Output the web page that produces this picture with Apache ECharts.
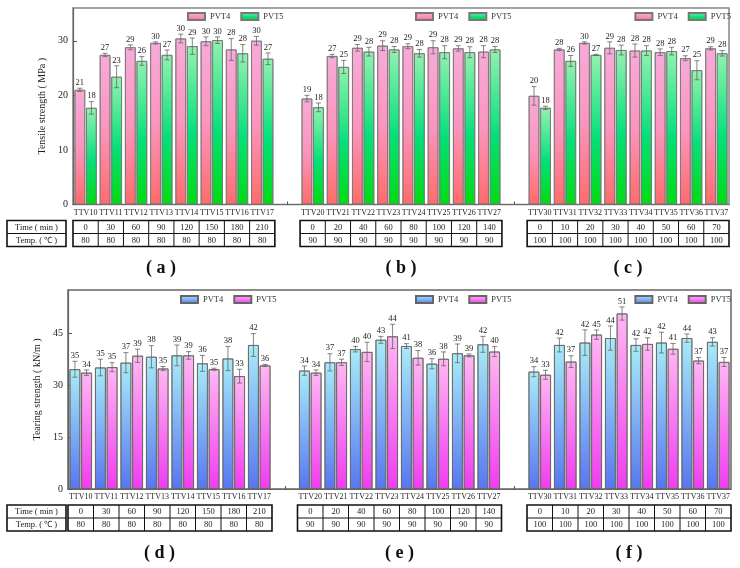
<!DOCTYPE html>
<html><head><meta charset="utf-8">
<script src="https://cdn.jsdelivr.net/npm/echarts@6/dist/echarts.min.js"></script>
<style>html,body{margin:0;padding:0;background:#fff}#c{width:740px;height:568px}</style>
</head><body><div id="c"></div>
<script>
// ---------- data ----------
const groupA = ['TTV10','TTV11','TTV12','TTV13','TTV14','TTV15','TTV16','TTV17'];
const groupB = ['TTV20','TTV21','TTV22','TTV23','TTV24','TTV25','TTV26','TTV27'];
const groupC = ['TTV30','TTV31','TTV32','TTV33','TTV34','TTV35','TTV36','TTV37'];
const timeA = [0,30,60,90,120,150,180,210];
const tempA = [80,80,80,80,80,80,80,80];
const timeB = [0,20,40,60,80,100,120,140];
const tempB = [90,90,90,90,90,90,90,90];
const timeC = [0,10,20,30,40,50,60,70];
const tempC = [100,100,100,100,100,100,100,100];
const panelTop = ['( a )','( b )','( c )'];
const panelBottom = ['( d )','( e )','( f )'];

const tensilePVT4    = [21.0,27.4,28.8,29.6,30.4,29.9,28.4,30.0, 19.4,27.2,28.7,29.1,29.0,28.8,28.6,28.0, 19.9,28.4,29.6,28.7,28.2,27.9,26.8,28.6];
const tensilePVT4Err = [0.3,0.3,0.45,0.2,0.8,0.8,2.0,0.8, 0.6,0.3,0.6,0.9,0.45,1.2,0.5,1.1, 1.7,0.2,0.2,1.1,1.2,0.6,0.45,0.3];
const tensilePVT5    = [17.7,23.4,26.3,27.4,29.0,30.1,27.7,26.7, 17.8,25.2,28.0,28.4,27.7,27.9,27.9,28.4, 17.7,26.3,27.4,28.3,28.2,28.1,24.6,27.7];
const tensilePVT5Err = [1.15,2.0,0.8,0.9,1.5,0.6,1.6,1.07, 0.8,1.2,0.8,0.55,0.7,1.2,1.0,0.55, 0.3,1.0,0.1,0.9,0.9,0.7,1.75,0.5];
const tearPVT4    = [34.6,35.1,36.5,38.2,38.6,36.3,37.7,41.6, 34.2,36.6,40.4,43.1,41.3,36.2,39.2,41.8, 33.9,41.6,42.3,43.6,41.6,42.3,43.6,42.5];
const tearPVT4Err = [2.3,2.4,2.9,3.2,3.0,2.3,3.5,3.3, 1.35,2.5,0.8,1.0,0.7,1.45,2.7,2.3, 1.45,2.0,3.7,3.5,1.8,3.0,1.2,1.2];
const tearPVT5    = [33.6,35.2,38.5,34.8,38.6,34.6,32.6,35.7, 33.6,36.6,39.6,44.1,37.9,37.6,38.6,39.7, 33.0,36.8,44.6,50.7,41.9,40.5,37.1,36.7];
const tearPVT5Err = [0.8,1.3,1.9,0.6,1.1,0.3,2.0,0.3, 0.8,0.9,2.8,3.5,2.1,2.0,0.4,1.45, 1.3,1.7,1.35,1.9,1.8,1.55,0.9,1.3];

// ---------- helpers ----------
const SERIF = 'Liberation Serif';
const cats = [...groupA, '', ...groupB, ' ', ...groupC];
const GAPS = [8, 17];
function expand(arr) { return [...arr.slice(0,8), '-', ...arr.slice(8,16), '-', ...arr.slice(16)]; }
function errData(vals, errs) {
  const v = expand(vals), e = expand(errs), out = [];
  v.forEach((val, i) => { if (val !== '-') out.push([i, val, e[i]]); });
  return out;
}
function grad(stops) {
  return { type:'linear', x:0, y:0, x2:0, y2:1, colorStops: stops.map(s => ({offset:s[0], color:s[1]})) };
}
const CAT_GAP = 0.12, BAR_GAP = 0.08;
function errRender(side) {
  return function (params, api) {
    const ci = api.value(0), v = api.value(1), e = api.value(2);
    const band = api.size([1, 0])[0];
    const bw = band * (1 - CAT_GAP) / (2 + BAR_GAP);
    const x = api.coord([ci, v])[0] + side * (bw + bw * BAR_GAP) / 2;
    const yT = api.coord([ci, v + e])[1], yB = api.coord([ci, v - e])[1];
    const cap = 2.5, st = { stroke:'#666', lineWidth:0.8 };
    return { type:'group', children:[
      { type:'line', shape:{x1:x, y1:yT, x2:x, y2:yB}, style:st },
      { type:'line', shape:{x1:x-cap, y1:yT, x2:x+cap, y2:yT}, style:st },
      { type:'line', shape:{x1:x-cap, y1:yB, x2:x+cap, y2:yB}, style:st },
      { type:'text', x:x, y:yT - 1, style:{ text:String(Math.round(v)), fontSize:8.5, fontFamily:SERIF, fill:'#222', align:'center', verticalAlign:'bottom' } }
    ]};
  };
}
function xAxisDef(gi) {
  return {
    type:'category', gridIndex:gi, data:cats, boundaryGap:true,
    axisLine:{ lineStyle:{ color:'#666', width:1.2 } },
    axisTick:{ show:true, inside:true, length:3, alignWithLabel:true, interval:(i) => GAPS.includes(i), lineStyle:{ color:'#555' } },
    axisLabel:{ interval:0, fontFamily:SERIF, fontSize:8, color:'#222', margin:4 }
  };
}
function yAxisDef(gi, max, interval, name, gap) {
  return {
    type:'value', gridIndex:gi, min:0, max:max, interval:interval,
    name:name, nameLocation:'middle', nameGap:gap, nameRotate:90,
    nameTextStyle:{ fontFamily:SERIF, fontSize:10, color:'#222' },
    axisLine:{ show:true, lineStyle:{ color:'#666', width:1.2 } },
    axisTick:{ show:true, inside:true, length:4, lineStyle:{ color:'#555' } },
    axisLabel:{ fontFamily:SERIF, fontSize:10, color:'#222', margin:5, showMaxLabel:false },
    splitLine:{ show:false }
  };
}
function legendDef(pos, top, names) {
  return Object.assign({
    data:names, top:top, padding:0, itemWidth:17, itemHeight:7, itemGap:10, itemTextGap:4,
    orient:'horizontal', icon:'rect', formatter:(n) => n.trim(),
    textStyle:{ fontFamily:SERIF, fontSize:8.5, color:'#333' }
  }, pos);
}

const cTopA = grad([[0,'#f8abd9'],[0.5,'#fb95bd'],[1,'#ff6b6b']]);
const cTopB = grad([[0,'#93f2b0'],[0.55,'#05e07a'],[1,'#00dc10']]);
const cBotA = grad([[0,'#a8ecf8'],[1,'#5876f0']]);
const cBotB = grad([[0,'#ffb8f2'],[1,'#f03cf0']]);
const barBase = { type:'bar', barCategoryGap:(CAT_GAP*100)+'%', barGap:(BAR_GAP*100)+'%' };

const chart = echarts.init(document.getElementById('c'), null, { renderer:'canvas' });
chart.setOption({
  animation:false,
  backgroundColor:'#fff',
  grid:[
    { left:73, top:8, width:656, height:196.5, show:true, borderColor:'#888', borderWidth:1.5 },
    { left:68, top:290, width:663, height:199, show:true, borderColor:'#666', borderWidth:1.5 }
  ],
  xAxis:[ xAxisDef(0), xAxisDef(1) ],
  yAxis:[
    yAxisDef(0, 36, 10, 'Tensile strength ( MPa )', 19),
    yAxisDef(1, 57.5, 15, 'Tearing strength ( kN/m )', 18)
  ],
  legend:[
    legendDef({left:187}, 12, ['PVT4','PVT5']),
    legendDef({left:415}, 12, ['PVT4','PVT5']),
    legendDef({right:9}, 12, ['PVT4','PVT5']),
    legendDef({left:180}, 295, ['PVT4 ','PVT5 ']),
    legendDef({left:415}, 295, ['PVT4 ','PVT5 ']),
    legendDef({right:9}, 295, ['PVT4 ','PVT5 '])
  ],
  series:[
    Object.assign({}, barBase, { name:'PVT4', xAxisIndex:0, yAxisIndex:0, data:expand(tensilePVT4), itemStyle:{ color:cTopA, borderColor:'#777', borderWidth:0.8 } }),
    Object.assign({}, barBase, { name:'PVT5', xAxisIndex:0, yAxisIndex:0, data:expand(tensilePVT5), itemStyle:{ color:cTopB, borderColor:'#777', borderWidth:0.8 } }),
    Object.assign({}, barBase, { name:'PVT4 ', xAxisIndex:1, yAxisIndex:1, data:expand(tearPVT4), itemStyle:{ color:cBotA, borderColor:'#666', borderWidth:0.8 } }),
    Object.assign({}, barBase, { name:'PVT5 ', xAxisIndex:1, yAxisIndex:1, data:expand(tearPVT5), itemStyle:{ color:cBotB, borderColor:'#666', borderWidth:0.8 } }),
    { type:'custom', name:'PVT4', xAxisIndex:0, yAxisIndex:0, renderItem:errRender(-1), data:errData(tensilePVT4, tensilePVT4Err), encode:{x:0, y:1}, z:5 },
    { type:'custom', name:'PVT5', xAxisIndex:0, yAxisIndex:0, renderItem:errRender(1), data:errData(tensilePVT5, tensilePVT5Err), encode:{x:0, y:1}, z:5 },
    { type:'custom', name:'PVT4 ', xAxisIndex:1, yAxisIndex:1, renderItem:errRender(-1), data:errData(tearPVT4, tearPVT4Err), encode:{x:0, y:1}, z:5 },
    { type:'custom', name:'PVT5 ', xAxisIndex:1, yAxisIndex:1, renderItem:errRender(1), data:errData(tearPVT5, tearPVT5Err), encode:{x:0, y:1}, z:5 }
  ]
});

// ---------- tables & panel titles (positioned from the axes) ----------
function cellText(x, y, w, h, txt, size) {
  return { type:'text', x:x + w/2, y:y + h/2 + 0.5, style:{ text:String(txt), fontFamily:SERIF, fontSize:size || 8.5, fill:'#222', align:'center', verticalAlign:'middle' }, z:10 };
}
function tables(ax, groups, titles, titleY) {
  const els = [];
  const p0 = chart.convertToPixel({ xAxisIndex:ax }, 0);
  const p1 = chart.convertToPixel({ xAxisIndex:ax }, 1);
  const slot = p1 - p0;
  const y0 = chart.convertToPixel({ yAxisIndex:ax }, 0);
  const top = y0 + 16, rh = 13;
  groups.forEach((g, gi) => {
    const left = chart.convertToPixel({ xAxisIndex:ax }, g.start) - slot/2;
    const W = slot * g.time.length;
    for (let k = 1; k < g.time.length; k++) {
      els.push({ type:'line', shape:{ x1:left + k*slot, y1:top, x2:left + k*slot, y2:top + 2*rh }, style:{ stroke:'#111', lineWidth:1 }, z:10 });
    }
    els.push({ type:'line', shape:{ x1:left, y1:top + rh, x2:left + W, y2:top + rh }, style:{ stroke:'#111', lineWidth:1 }, z:10 });
    els.push({ type:'rect', shape:{ x:left, y:top, width:W, height:2*rh }, style:{ fill:'none', stroke:'#111', lineWidth:1.6 }, z:10 });
    g.time.forEach((t, k) => {
      els.push(cellText(left + k*slot, top, slot, rh, t));
      els.push(cellText(left + k*slot, top + rh, slot, rh, g.temp[k]));
    });
    let cx = left + W/2;
    if (gi === 0) cx = (7 + left + W) / 2 + 20;
    els.push({ type:'text', x:cx, y:titleY, style:{ text:titles[gi], fontFamily:SERIF, fontSize:18, fontWeight:'bold', fill:'#111', align:'center', verticalAlign:'middle' }, z:10 });
  });
  // row header box
  const hx = 7, hw = 59;
  els.push({ type:'rect', shape:{ x:hx, y:top, width:hw, height:2*rh }, style:{ fill:'none', stroke:'#111', lineWidth:1.6 }, z:10 });
  els.push({ type:'line', shape:{ x1:hx, y1:top + rh, x2:hx + hw, y2:top + rh }, style:{ stroke:'#111', lineWidth:1 }, z:10 });
  els.push(cellText(hx, top, hw, rh, 'Time ( min )'));
  els.push(cellText(hx, top + rh, hw, rh, 'Temp. ( \u2103 )'));
  return els;
}
const groups = [
  { start:0, time:timeA, temp:tempA },
  { start:9, time:timeB, temp:tempB },
  { start:18, time:timeC, temp:tempC }
];
const graphics = [].concat(tables(0, groups, panelTop, 268), tables(1, groups, panelBottom, 553));
chart.setOption({ graphic: graphics });
</script>
</body></html>
